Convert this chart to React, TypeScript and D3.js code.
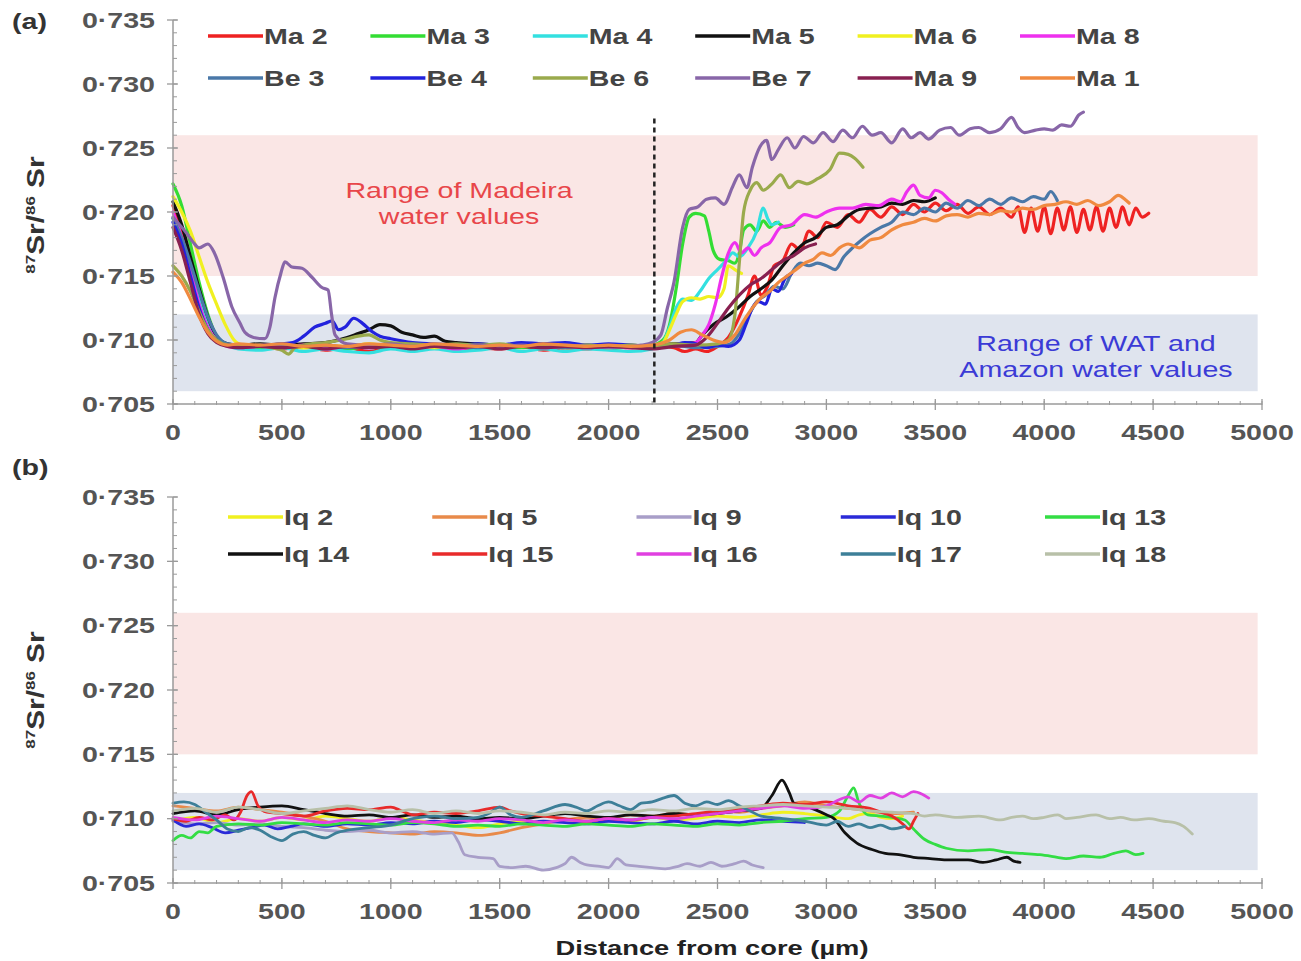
import React from "react";
import * as d3 from "d3";

// ---------- DATA ----------
type Pt = [number, number];

const xTickValues = [0, 500, 1000, 1500, 2000, 2500, 3000, 3500, 4000, 4500, 5000];
const xTickLabels = ["0", "500", "1000", "1500", "2000", "2500", "3000", "3500", "4000", "4500", "5000"];
const yTickValues = [0.705, 0.71, 0.715, 0.72, 0.725, 0.73, 0.735];
const yTickLabels = ["0·705", "0·710", "0·715", "0·720", "0·725", "0·730", "0·735"];

const madeiraBand: [number, number] = [0.715, 0.726];
const watBand: [number, number] = [0.706, 0.712];
const bandXRange: [number, number] = [0, 4980];
const dashedLineX = 2210;
const dashedLineTop = 0.7273;

// Panel (a)
const ma2: Pt[] = [[0,0.7205],[40,0.7185],[80,0.716],[120,0.7135],[160,0.7115],[200,0.7102],[250,0.7096],[300,0.7094],[400,0.7095],[500,0.7093],[600,0.7095],[700,0.7092],[800,0.7094],[900,0.7091],[1000,0.7094],[1100,0.7092],[1200,0.7095],[1300,0.7092],[1400,0.7094],[1500,0.7093],[1600,0.7095],[1700,0.7092],[1800,0.7094],[1900,0.7093],[2000,0.7095],[2100,0.7094],[2200,0.7096],[2300,0.7094],[2350,0.7091],[2400,0.7093],[2450,0.7091],[2500,0.7095],[2550,0.7102],[2600,0.7118],[2640,0.7135],[2670,0.715],[2700,0.7135],[2730,0.7142],[2760,0.7158],[2800,0.7162],[2840,0.7175],[2880,0.717],[2920,0.7185],[2960,0.718],[3000,0.7192],[3050,0.7188],[3100,0.7198],[3150,0.7192],[3200,0.7202],[3250,0.7196],[3300,0.7204],[3350,0.7198],[3400,0.7206],[3450,0.72],[3500,0.7207],[3550,0.7201],[3600,0.7206],[3650,0.7199],[3700,0.7204],[3750,0.7198],[3800,0.7203],[3850,0.7196],[3880,0.7204],[3910,0.7184],[3940,0.7203],[3970,0.7185],[4000,0.7204],[4030,0.7183],[4060,0.7203],[4090,0.7186],[4120,0.7204],[4150,0.7184],[4180,0.7202],[4210,0.7186],[4240,0.7204],[4270,0.7185],[4300,0.7203],[4330,0.7188],[4360,0.7204],[4390,0.719],[4420,0.7203],[4450,0.7196],[4480,0.7199]];
const ma3: Pt[] = [[0,0.7222],[40,0.7205],[80,0.7175],[120,0.7145],[160,0.712],[200,0.7103],[250,0.7096],[300,0.7095],[400,0.7094],[500,0.7096],[600,0.7094],[700,0.7095],[800,0.7093],[900,0.7095],[1000,0.7094],[1100,0.7096],[1200,0.7094],[1300,0.7095],[1400,0.7093],[1500,0.7095],[1600,0.7094],[1700,0.7096],[1800,0.7094],[1900,0.7095],[2000,0.7093],[2100,0.7095],[2200,0.7096],[2250,0.71],[2280,0.7112],[2310,0.714],[2340,0.7175],[2370,0.7196],[2400,0.7199],[2440,0.7197],[2460,0.7185],[2480,0.717],[2510,0.7163],[2550,0.7162],[2580,0.716],[2600,0.7168],[2620,0.7186],[2650,0.719],[2680,0.7185],[2710,0.7193],[2740,0.7188],[2770,0.7192],[2810,0.7188],[2850,0.719]];
const ma4: Pt[] = [[0,0.7195],[40,0.7178],[80,0.7158],[120,0.7135],[160,0.7115],[200,0.7103],[250,0.7096],[300,0.7093],[400,0.7092],[500,0.7094],[600,0.7091],[700,0.7093],[800,0.7091],[900,0.709],[1000,0.7093],[1100,0.7091],[1200,0.7093],[1300,0.7091],[1400,0.7092],[1500,0.7094],[1600,0.7091],[1700,0.7093],[1800,0.7091],[1900,0.7093],[2000,0.7092],[2100,0.7091],[2200,0.7093],[2250,0.7098],[2280,0.711],[2310,0.7125],[2340,0.7132],[2380,0.7131],[2420,0.7138],[2460,0.7148],[2500,0.7155],[2540,0.7162],[2570,0.7168],[2600,0.7165],[2640,0.7172],[2680,0.7185],[2710,0.7203],[2730,0.7195],[2750,0.719],[2780,0.7192]];
const ma5: Pt[] = [[0,0.7208],[40,0.719],[80,0.7165],[120,0.714],[160,0.7118],[200,0.7103],[250,0.7097],[300,0.7096],[400,0.7097],[500,0.7096],[600,0.7097],[700,0.7098],[800,0.7102],[850,0.7105],[900,0.7108],[950,0.7112],[1000,0.7111],[1050,0.7106],[1100,0.7104],[1150,0.7102],[1200,0.7103],[1250,0.7099],[1300,0.7098],[1400,0.7097],[1500,0.7096],[1600,0.7097],[1700,0.7096],[1800,0.7097],[1900,0.7095],[2000,0.7096],[2100,0.7095],[2200,0.7096],[2300,0.7097],[2400,0.7098],[2430,0.7104],[2480,0.7112],[2540,0.7118],[2600,0.7126],[2650,0.7134],[2700,0.714],[2750,0.7147],[2800,0.7158],[2850,0.7168],[2900,0.7176],[2950,0.718],[3000,0.7188],[3050,0.719],[3100,0.7197],[3150,0.7202],[3200,0.7203],[3250,0.7204],[3300,0.7207],[3350,0.7206],[3400,0.7209],[3450,0.7208],[3500,0.7211]];
const ma6: Pt[] = [[0,0.7212],[40,0.72],[80,0.7185],[120,0.7165],[160,0.7145],[200,0.7128],[240,0.7112],[280,0.71],[320,0.7096],[400,0.7095],[500,0.7096],[600,0.7094],[700,0.7096],[800,0.7095],[900,0.7097],[1000,0.7095],[1100,0.7096],[1200,0.7094],[1300,0.7096],[1400,0.7095],[1500,0.7096],[1600,0.7095],[1700,0.7097],[1800,0.7095],[1900,0.7096],[2000,0.7094],[2100,0.7096],[2200,0.7095],[2250,0.7098],[2280,0.7108],[2310,0.712],[2340,0.713],[2380,0.7133],[2420,0.7132],[2460,0.7134],[2500,0.7133],[2530,0.714],[2550,0.7158],[2580,0.7155],[2610,0.7152]];
const ma8: Pt[] = [[0,0.72],[40,0.718],[80,0.7155],[120,0.7128],[160,0.711],[200,0.71],[250,0.7095],[300,0.7094],[400,0.7095],[500,0.7094],[600,0.7096],[700,0.7093],[800,0.7095],[900,0.7094],[1000,0.7096],[1100,0.7094],[1200,0.7095],[1300,0.7093],[1400,0.7095],[1500,0.7094],[1600,0.7096],[1700,0.7094],[1800,0.7095],[1900,0.7094],[2000,0.7095],[2100,0.7094],[2200,0.7096],[2300,0.7095],[2400,0.7098],[2430,0.7104],[2460,0.7112],[2490,0.7128],[2520,0.715],[2550,0.7168],[2580,0.7176],[2610,0.7168],[2640,0.7172],[2670,0.7166],[2700,0.7172],[2740,0.7176],[2790,0.7188],[2840,0.719],[2900,0.7198],[2950,0.7196],[3000,0.72],[3060,0.7203],[3120,0.7203],[3180,0.7206],[3240,0.7205],[3300,0.721],[3340,0.7208],[3370,0.7216],[3400,0.7221],[3430,0.7213],[3470,0.7211],[3500,0.7217],[3530,0.7215],[3560,0.721],[3590,0.7206]];
const be3: Pt[] = [[0,0.7195],[40,0.718],[80,0.716],[120,0.7138],[160,0.7118],[200,0.7104],[250,0.7097],[300,0.7096],[400,0.7095],[500,0.7097],[600,0.7095],[700,0.7096],[800,0.7094],[900,0.7096],[1000,0.7095],[1100,0.7097],[1200,0.7095],[1300,0.7096],[1400,0.7094],[1500,0.7096],[1600,0.7095],[1700,0.7096],[1800,0.7094],[1900,0.7096],[2000,0.7095],[2100,0.7096],[2200,0.7095],[2300,0.7096],[2400,0.7094],[2500,0.7095],[2560,0.7097],[2600,0.7105],[2640,0.7118],[2680,0.713],[2720,0.7135],[2760,0.7142],[2800,0.714],[2840,0.7152],[2880,0.716],[2920,0.7158],[2960,0.716],[3000,0.7158],[3040,0.7155],[3080,0.7165],[3120,0.7172],[3160,0.7178],[3200,0.7183],[3250,0.7188],[3300,0.7192],[3350,0.72],[3400,0.7198],[3450,0.7203],[3500,0.72],[3550,0.7207],[3600,0.7203],[3650,0.7209],[3700,0.7205],[3750,0.721],[3800,0.7206],[3850,0.7211],[3900,0.7208],[3950,0.7212],[4000,0.721],[4030,0.7216],[4060,0.7209]];
const be4: Pt[] = [[0,0.7192],[40,0.7175],[80,0.715],[120,0.7125],[160,0.7108],[200,0.7099],[250,0.7096],[300,0.7095],[400,0.7096],[500,0.7097],[550,0.7098],[600,0.7103],[650,0.711],[700,0.7113],[730,0.7115],[760,0.7108],[790,0.711],[830,0.7117],[870,0.7113],[910,0.7107],[950,0.7103],[1000,0.7101],[1100,0.7098],[1200,0.7097],[1300,0.7096],[1400,0.7097],[1500,0.7096],[1600,0.7098],[1700,0.7097],[1800,0.7098],[1900,0.7096],[2000,0.7097],[2100,0.7096],[2200,0.7095],[2300,0.7096],[2350,0.7098],[2400,0.7097],[2450,0.7094],[2500,0.7096],[2550,0.7095],[2600,0.71],[2630,0.7112],[2660,0.7125],[2690,0.713],[2720,0.7128],[2750,0.714],[2780,0.7138],[2810,0.7148],[2840,0.7152]];
const be6: Pt[] = [[0,0.7158],[40,0.715],[80,0.7138],[120,0.7122],[160,0.7108],[200,0.71],[250,0.7096],[300,0.7095],[400,0.7096],[450,0.7094],[500,0.7092],[530,0.7089],[560,0.7094],[600,0.7096],[700,0.7098],[800,0.7101],[850,0.7103],[900,0.7104],[950,0.71],[1000,0.7098],[1100,0.7097],[1200,0.7096],[1300,0.7097],[1400,0.7096],[1500,0.7097],[1600,0.7095],[1700,0.7096],[1800,0.7095],[1900,0.7096],[2000,0.7095],[2100,0.7096],[2200,0.7095],[2300,0.7097],[2400,0.7096],[2500,0.7097],[2550,0.71],[2580,0.712],[2600,0.716],[2620,0.72],[2650,0.7217],[2680,0.7223],[2710,0.7217],[2750,0.7222],[2790,0.7229],[2830,0.7219],[2870,0.7224],[2910,0.7222],[2960,0.7226],[3016,0.7233],[3060,0.7246],[3100,0.7245],[3130,0.7242],[3168,0.7235]];
const be7: Pt[] = [[0,0.7196],[30,0.719],[60,0.7184],[90,0.7177],[120,0.7172],[160,0.7175],[190,0.7168],[230,0.7149],[270,0.7126],[308,0.7113],[330,0.7106],[370,0.7102],[422,0.7101],[445,0.711],[468,0.7133],[495,0.7152],[514,0.7161],[546,0.7157],[592,0.7156],[638,0.7149],[684,0.7141],[712,0.7139],[728,0.712],[744,0.7104],[800,0.7097],[900,0.7096],[1000,0.7097],[1100,0.7095],[1200,0.7096],[1300,0.7094],[1400,0.7096],[1500,0.7095],[1600,0.7096],[1700,0.7094],[1800,0.7096],[1900,0.7095],[2000,0.7094],[2100,0.7095],[2150,0.7096],[2200,0.7098],[2240,0.7104],[2270,0.7125],[2300,0.7145],[2340,0.7188],[2370,0.7202],[2410,0.7204],[2450,0.721],[2490,0.7211],[2530,0.7206],[2570,0.722],[2600,0.7229],[2635,0.7219],[2660,0.7235],[2695,0.7251],[2725,0.7256],[2750,0.7241],[2780,0.7249],[2820,0.7258],[2855,0.725],[2895,0.7259],[2940,0.7254],[2985,0.7262],[3030,0.7255],[3075,0.7264],[3120,0.7258],[3165,0.7267],[3210,0.726],[3250,0.7262],[3300,0.7254],[3350,0.7265],[3390,0.7258],[3430,0.7262],[3470,0.7257],[3520,0.7264],[3570,0.7266],[3610,0.726],[3660,0.7265],[3700,0.7266],[3750,0.7262],[3800,0.7265],[3850,0.7274],[3880,0.7266],[3910,0.7262],[3960,0.7264],[4000,0.7265],[4040,0.7264],[4080,0.7268],[4120,0.7267],[4160,0.7276],[4180,0.7278]];
const ma9: Pt[] = [[0,0.7188],[40,0.717],[80,0.7145],[120,0.712],[160,0.7105],[200,0.7098],[250,0.7095],[300,0.7094],[400,0.7095],[500,0.7094],[600,0.7095],[700,0.7093],[800,0.7095],[900,0.7094],[1000,0.7095],[1100,0.7093],[1200,0.7095],[1300,0.7094],[1400,0.7095],[1500,0.7093],[1600,0.7095],[1700,0.7094],[1800,0.7095],[1900,0.7094],[2000,0.7095],[2100,0.7094],[2200,0.7093],[2300,0.7095],[2400,0.7096],[2450,0.7102],[2500,0.7113],[2550,0.7125],[2600,0.7135],[2650,0.7143],[2700,0.7148],[2750,0.7155],[2800,0.7162],[2850,0.7166],[2900,0.7172],[2950,0.7175]];
const ma1: Pt[] = [[0,0.7153],[40,0.7145],[80,0.7132],[120,0.7118],[160,0.7106],[200,0.7099],[250,0.7096],[300,0.7097],[400,0.7096],[500,0.7097],[600,0.7095],[700,0.7096],[800,0.7095],[900,0.7097],[1000,0.7096],[1100,0.7095],[1200,0.7097],[1300,0.7096],[1400,0.7095],[1500,0.7096],[1600,0.7095],[1700,0.7097],[1800,0.7096],[1900,0.7095],[2000,0.7096],[2100,0.7095],[2200,0.7096],[2280,0.71],[2330,0.7106],[2380,0.7108],[2430,0.7104],[2480,0.71],[2530,0.7098],[2580,0.7104],[2620,0.7115],[2660,0.7125],[2700,0.7133],[2740,0.7138],[2780,0.7145],[2820,0.715],[2860,0.7155],[2900,0.716],[2940,0.7163],[2980,0.7168],[3020,0.7166],[3060,0.7172],[3100,0.7175],[3150,0.7172],[3200,0.7178],[3250,0.718],[3300,0.7186],[3350,0.719],[3400,0.7192],[3450,0.7195],[3500,0.7193],[3550,0.7197],[3600,0.7198],[3650,0.7196],[3700,0.7199],[3750,0.7198],[3800,0.7201],[3850,0.72],[3900,0.7203],[3950,0.7202],[4000,0.7205],[4050,0.7206],[4100,0.7208],[4150,0.7206],[4200,0.7209],[4250,0.7205],[4300,0.7208],[4340,0.7213],[4370,0.721],[4390,0.7207]];

// Panel (b)
const iq2: Pt[] = [[0,0.7098],[100,0.7101],[200,0.7097],[300,0.71],[400,0.7098],[500,0.7101],[600,0.7099],[700,0.7102],[800,0.71],[900,0.7098],[1000,0.7101],[1100,0.7099],[1200,0.7097],[1300,0.7095],[1400,0.7093],[1500,0.7096],[1600,0.7098],[1700,0.7097],[1800,0.7099],[1900,0.7098],[2000,0.71],[2100,0.7098],[2200,0.7101],[2300,0.7099],[2400,0.71],[2500,0.7102],[2600,0.7101],[2700,0.7103],[2800,0.7105],[2900,0.7104],[3000,0.7102],[3100,0.71],[3150,0.7103],[3200,0.7104],[3250,0.7101],[3300,0.71],[3350,0.7102]];
const iq5: Pt[] = [[0,0.711],[100,0.7108],[200,0.7106],[300,0.7109],[400,0.7107],[500,0.7105],[600,0.7102],[700,0.7098],[800,0.7092],[900,0.709],[1000,0.7089],[1100,0.7088],[1200,0.709],[1300,0.7089],[1400,0.7087],[1500,0.7089],[1600,0.7093],[1700,0.7096],[1800,0.7099],[1900,0.7101],[2000,0.71],[2100,0.7103],[2200,0.7102],[2300,0.7104],[2400,0.7103],[2500,0.7106],[2600,0.7105],[2700,0.7108],[2800,0.711],[2900,0.7113],[3000,0.711],[3100,0.7108],[3200,0.7106],[3300,0.7104],[3400,0.7105]];
const iq9: Pt[] = [[0,0.7098],[100,0.7096],[200,0.7097],[300,0.7095],[400,0.7096],[500,0.7094],[600,0.7093],[700,0.7091],[800,0.709],[900,0.7091],[1000,0.7089],[1100,0.709],[1200,0.7088],[1280,0.7089],[1310,0.7082],[1340,0.7072],[1400,0.707],[1470,0.7069],[1500,0.7063],[1560,0.7062],[1620,0.7063],[1700,0.706],[1760,0.7062],[1800,0.7065],[1830,0.707],[1870,0.7066],[1900,0.7064],[1960,0.7063],[2000,0.7062],[2040,0.7069],[2080,0.7064],[2140,0.7063],[2200,0.7062],[2260,0.7061],[2320,0.7063],[2360,0.7065],[2420,0.7063],[2470,0.7066],[2520,0.7063],[2580,0.7065],[2620,0.7067],[2660,0.7064],[2710,0.7062]];
const iq10: Pt[] = [[0,0.7099],[60,0.7094],[120,0.7096],[180,0.7093],[240,0.7089],[300,0.7091],[360,0.7093],[420,0.7095],[480,0.7092],[540,0.7094],[600,0.7096],[700,0.7094],[800,0.7096],[900,0.7095],[1000,0.7097],[1100,0.7096],[1200,0.7098],[1300,0.7097],[1400,0.7099],[1500,0.7098],[1600,0.7096],[1700,0.7098],[1800,0.7097],[1900,0.7096],[2000,0.7098],[2100,0.7097],[2200,0.7096],[2300,0.7098],[2400,0.7096],[2500,0.7098],[2600,0.7097],[2700,0.7099],[2800,0.7098],[2900,0.7097]];
const iq13: Pt[] = [[0,0.7083],[40,0.7087],[80,0.7085],[120,0.709],[160,0.7089],[200,0.7094],[300,0.7096],[400,0.7095],[500,0.7097],[600,0.7096],[700,0.7095],[800,0.7097],[900,0.7096],[1000,0.7095],[1100,0.7097],[1200,0.7096],[1300,0.7094],[1400,0.7095],[1500,0.7094],[1600,0.7096],[1700,0.7095],[1800,0.7094],[1900,0.7096],[2000,0.7095],[2100,0.7094],[2200,0.7096],[2300,0.7095],[2400,0.7094],[2500,0.7096],[2600,0.7095],[2700,0.7097],[2800,0.7098],[2900,0.71],[3000,0.7101],[3060,0.7106],[3100,0.7118],[3125,0.7124],[3150,0.7112],[3190,0.7103],[3250,0.7102],[3300,0.7101],[3360,0.7099],[3400,0.7092],[3450,0.7084],[3500,0.708],[3550,0.7077],[3650,0.7075],[3750,0.7076],[3820,0.7074],[3900,0.7073],[3980,0.7072],[4060,0.707],[4100,0.7069],[4180,0.7071],[4256,0.707],[4320,0.7073],[4375,0.7075],[4420,0.7072],[4454,0.7073]];
const iq14: Pt[] = [[0,0.7104],[100,0.7106],[200,0.7103],[300,0.7107],[400,0.7109],[500,0.711],[600,0.7107],[700,0.7104],[800,0.7102],[900,0.7103],[1000,0.7101],[1100,0.7103],[1200,0.7101],[1300,0.7102],[1400,0.71],[1500,0.7101],[1600,0.71],[1700,0.7102],[1800,0.7104],[1900,0.7102],[2000,0.7101],[2100,0.7103],[2200,0.7102],[2300,0.7104],[2400,0.7103],[2500,0.7104],[2600,0.7106],[2700,0.7108],[2750,0.7118],[2796,0.713],[2830,0.712],[2851,0.7112],[2900,0.711],[2948,0.7107],[3000,0.7103],[3035,0.71],[3085,0.7089],[3140,0.7081],[3209,0.7076],[3270,0.7073],[3333,0.7072],[3400,0.707],[3476,0.7069],[3550,0.7068],[3650,0.7068],[3719,0.7066],[3780,0.7068],[3829,0.707],[3860,0.7067],[3889,0.7066]];
const iq15: Pt[] = [[0,0.71],[60,0.7098],[120,0.7101],[180,0.7099],[240,0.7103],[280,0.7099],[310,0.7105],[340,0.7118],[360,0.7121],[390,0.711],[430,0.7105],[500,0.7104],[600,0.7102],[700,0.7106],[800,0.7108],[900,0.7107],[1000,0.7109],[1050,0.7106],[1100,0.7103],[1200,0.7105],[1300,0.7104],[1400,0.7106],[1500,0.7109],[1550,0.7106],[1600,0.7104],[1700,0.7102],[1800,0.71],[1900,0.7098],[2000,0.71],[2100,0.7099],[2200,0.7101],[2300,0.7102],[2400,0.7104],[2500,0.7106],[2600,0.7108],[2700,0.711],[2800,0.7112],[2900,0.7111],[3000,0.7113],[3100,0.711],[3200,0.7108],[3250,0.7105],[3300,0.7102],[3350,0.7096],[3380,0.7092],[3400,0.7098],[3420,0.7104]];
const iq16: Pt[] = [[0,0.7101],[100,0.7099],[200,0.7102],[300,0.71],[400,0.7098],[500,0.7101],[600,0.7099],[700,0.7097],[800,0.7099],[900,0.7098],[1000,0.71],[1100,0.7098],[1200,0.7097],[1300,0.7099],[1400,0.7098],[1500,0.71],[1600,0.7099],[1700,0.7097],[1800,0.7099],[1900,0.7098],[2000,0.71],[2100,0.7099],[2200,0.7101],[2300,0.71],[2400,0.7102],[2500,0.7104],[2600,0.7106],[2700,0.7108],[2800,0.711],[2900,0.7108],[3000,0.711],[3050,0.7114],[3100,0.7117],[3150,0.7113],[3200,0.7118],[3250,0.7116],[3300,0.712],[3350,0.7117],[3400,0.7121],[3440,0.7119],[3470,0.7116]];
const iq17: Pt[] = [[0,0.7112],[50,0.7113],[100,0.7111],[150,0.7105],[200,0.7099],[250,0.7092],[300,0.709],[350,0.7093],[400,0.7091],[450,0.7086],[500,0.7083],[550,0.7088],[600,0.709],[650,0.7087],[700,0.7085],[750,0.7089],[800,0.7091],[900,0.7093],[1000,0.7095],[1100,0.71],[1200,0.7102],[1300,0.71],[1400,0.7101],[1450,0.7104],[1500,0.7109],[1550,0.7103],[1600,0.7101],[1700,0.7106],[1800,0.7111],[1850,0.7109],[1900,0.7106],[1950,0.711],[2000,0.7113],[2050,0.711],[2100,0.7107],[2150,0.7112],[2200,0.7113],[2250,0.7116],[2300,0.7118],[2350,0.7112],[2400,0.711],[2450,0.7113],[2500,0.7111],[2550,0.7114],[2600,0.711],[2650,0.7106],[2700,0.7102],[2800,0.71],[2900,0.7098],[3000,0.7095],[3050,0.7098],[3100,0.7094],[3150,0.7096],[3200,0.7093],[3250,0.7095],[3300,0.7092],[3360,0.7094]];
const iq18: Pt[] = [[0,0.7106],[100,0.7108],[200,0.7105],[300,0.7109],[400,0.7107],[500,0.7104],[600,0.7106],[700,0.7108],[800,0.711],[900,0.7107],[1000,0.7105],[1100,0.7107],[1200,0.7104],[1300,0.7106],[1400,0.7104],[1500,0.7106],[1600,0.7105],[1700,0.7103],[1800,0.7105],[1900,0.7104],[2000,0.7106],[2100,0.7105],[2200,0.7107],[2300,0.7106],[2400,0.7108],[2500,0.7107],[2600,0.7109],[2700,0.711],[2800,0.7111],[2900,0.711],[3000,0.7109],[3100,0.7108],[3200,0.7106],[3300,0.7105],[3400,0.7104],[3450,0.7102],[3500,0.7103],[3600,0.7101],[3700,0.7102],[3800,0.7099],[3850,0.7101],[3900,0.7102],[3950,0.71],[4000,0.7101],[4063,0.7103],[4100,0.71],[4150,0.7101],[4238,0.7103],[4300,0.71],[4350,0.7101],[4412,0.7099],[4480,0.71],[4550,0.7098],[4600,0.7097],[4640,0.7094],[4680,0.7088]];

const panelANames = ["Ma 2", "Ma 3", "Ma 4", "Ma 5", "Ma 6", "Ma 8", "Be 3", "Be 4", "Be 6", "Be 7", "Ma 9", "Ma 1"];
const panelAData = [ma2, ma3, ma4, ma5, ma6, ma8, be3, be4, be6, be7, ma9, ma1];
const panelBNames = ["Iq 2", "Iq 5", "Iq 9", "Iq 10", "Iq 13", "Iq 14", "Iq 15", "Iq 16", "Iq 17", "Iq 18"];
const panelBData = [iq2, iq5, iq9, iq10, iq13, iq14, iq15, iq16, iq17, iq18];

// ---------- STYLES ----------
const panelAColors = ["#ee2222", "#33dd33", "#33e0e0", "#111111", "#f0f020", "#ee30ee", "#4a78a8", "#2222dd", "#9aaa4c", "#8866a8", "#882050", "#f08a40"];
const panelBColors = ["#f0f020", "#e88a4a", "#a89ec8", "#2a2ad8", "#33dd44", "#111111", "#e82a2a", "#e040e0", "#3d7f98", "#b8c0a8"];

const FONT = "'Liberation Sans', Arial, Helvetica, sans-serif";
const SX = 1.3;

const X0 = 173, X1 = 1262;
const x = d3.scaleLinear().domain([0, 5000]).range([X0, X1]);
const yA = d3.scaleLinear().domain([0.705, 0.735]).range([404, 20]);
const yB = d3.scaleLinear().domain([0.705, 0.735]).range([883, 497]);

function SText(props: any) {
  const { x: tx, y: ty, anchor = "start", children, ...rest } = props;
  return (
    <text transform={`translate(${tx},${ty}) scale(${SX},1)`} textAnchor={anchor} fontFamily={FONT} {...rest}>
      {children}
    </text>
  );
}

function Axes({ y }: { y: d3.ScaleLinear<number, number> }) {
  const axisColor = "#9a9a9a";
  const minorY = d3.range(0, 31).map((i) => 0.705 + i * 0.001);
  const minorX = d3.range(0, 51).map((i) => i * 100);
  const yBase = y(0.705);
  return (
    <g>
      <line x1={X0} x2={X0} y1={y(0.735)} y2={yBase} stroke={axisColor} strokeWidth={1.5} />
      <line x1={X0} x2={X1} y1={yBase} y2={yBase} stroke={axisColor} strokeWidth={1.5} />
      {minorY.map((v, i) => (
        <line key={"my" + i} x1={X0} x2={X0 + 4} y1={y(v)} y2={y(v)} stroke={axisColor} strokeWidth={1} />
      ))}
      {yTickValues.map((v, i) => (
        <line key={"My" + i} x1={X0 - 6} x2={X0 + 5} y1={y(v)} y2={y(v)} stroke={axisColor} strokeWidth={1.3} />
      ))}
      {minorX.map((v, i) => (
        <line key={"mx" + i} x1={x(v)} x2={x(v)} y1={yBase - 3} y2={yBase + 1} stroke={axisColor} strokeWidth={1} />
      ))}
      {xTickValues.map((v, i) => (
        <line key={"Mx" + i} x1={x(v)} x2={x(v)} y1={yBase - 5} y2={yBase + 6} stroke={axisColor} strokeWidth={1.3} />
      ))}
      {yTickValues.map((v, i) => (
        <SText key={"yl" + i} x={155} y={y(v) + 7.5} anchor="end" fontSize={22} fontWeight="bold" fill="#555">
          {yTickLabels[i]}
        </SText>
      ))}
      {xTickValues.map((v, i) => (
        <SText key={"xl" + i} x={x(v)} y={yBase + 36} anchor="middle" fontSize={22} fontWeight="bold" fill="#555">
          {xTickLabels[i]}
        </SText>
      ))}
    </g>
  );
}

function Bands({ y }: { y: d3.ScaleLinear<number, number> }) {
  return (
    <g>
      <rect x={x(bandXRange[0])} width={x(bandXRange[1]) - x(bandXRange[0])} y={y(madeiraBand[1])} height={y(madeiraBand[0]) - y(madeiraBand[1])} fill="#fae6e5" />
      <rect x={x(bandXRange[0])} width={x(bandXRange[1]) - x(bandXRange[0])} y={y(watBand[1])} height={y(watBand[0]) - y(watBand[1])} fill="#dfe4ee" />
    </g>
  );
}

function Lines({ data, colors, y, width }: { data: Pt[][]; colors: string[]; y: d3.ScaleLinear<number, number>; width: number }) {
  const gen = d3.line<Pt>().x((d) => x(d[0])).y((d) => y(d[1])).curve(d3.curveMonotoneX);
  return (
    <g>
      {data.map((s, i) => (
        <path key={i} d={gen(s) || ""} fill="none" stroke={colors[i]} strokeWidth={width} strokeLinejoin="round" strokeLinecap="round" />
      ))}
    </g>
  );
}

function Legend({ names, colors, x0, dx, rows, perRow }: { names: string[]; colors: string[]; x0: number; dx: number; rows: number[]; perRow: number }) {
  return (
    <g>
      {names.map((n, i) => {
        const col = i % perRow;
        const row = Math.floor(i / perRow);
        const lx = x0 + col * dx;
        const ly = rows[row];
        return (
          <g key={n}>
            <line x1={lx} x2={lx + 55} y1={ly} y2={ly} stroke={colors[i]} strokeWidth={3.5} />
            <SText x={lx + 56} y={ly + 8} fontSize={22} fontWeight="bold" fill="#444">{n}</SText>
          </g>
        );
      })}
    </g>
  );
}

function YLabel({ cx, cy }: { cx: number; cy: number }) {
  return (
    <text transform={`translate(${cx},${cy}) rotate(-90) scale(${SX},1)`} textAnchor="middle" fontFamily={FONT} fontWeight="bold" fontSize={23} fill="#333">
      <tspan fontSize={13} dy={-9}>87</tspan>
      <tspan dy={9}>Sr/</tspan>
      <tspan fontSize={13} dy={-9}>86</tspan>
      <tspan dy={9}> Sr</tspan>
    </text>
  );
}

export default function App() {
  return (
    <div style={{ position: "fixed", left: 0, top: 0 }}>
      <svg width={1301} height={961} viewBox="0 0 1301 961" style={{ display: "block", background: "#ffffff" }}>
        {/* Panel (a) */}
        <Bands y={yA} />
        <SText x={459} y={198} anchor="middle" fontSize={22} fill="#e8464a">Range of Madeira</SText>
        <SText x={459} y={224} anchor="middle" fontSize={22} fill="#e8464a">water values</SText>
        <SText x={1096} y={351} anchor="middle" fontSize={22} fill="#3b3bd6">Range of WAT and</SText>
        <SText x={1096} y={377} anchor="middle" fontSize={22} fill="#3b3bd6">Amazon water values</SText>
        <Lines data={panelAData} colors={panelAColors} y={yA} width={3.2} />
        <line x1={x(dashedLineX)} x2={x(dashedLineX)} y1={yA(dashedLineTop)} y2={yA(0.705)} stroke="#222" strokeWidth={2.5} strokeDasharray="5,4" />
        <Axes y={yA} />
        <Legend names={panelANames} colors={panelAColors} x0={208} dx={162.4} rows={[36, 78]} perRow={6} />
        <SText x={12} y={29} fontSize={22} fontWeight="bold" fill="#333">(a)</SText>
        <YLabel cx={44} cy={215} />

        {/* Panel (b) */}
        <Bands y={yB} />
        <Lines data={panelBData} colors={panelBColors} y={yB} width={2.8} />
        <Axes y={yB} />
        <Legend names={panelBNames} colors={panelBColors} x0={228} dx={204.25} rows={[517, 554]} perRow={5} />
        <SText x={12} y={475} fontSize={22} fontWeight="bold" fill="#333">(b)</SText>
        <YLabel cx={44} cy={690} />
        <SText x={712} y={955} anchor="middle" fontSize={21} fontWeight="bold" fill="#222">Distance from core (µm)</SText>
      </svg>
    </div>
  );
}
